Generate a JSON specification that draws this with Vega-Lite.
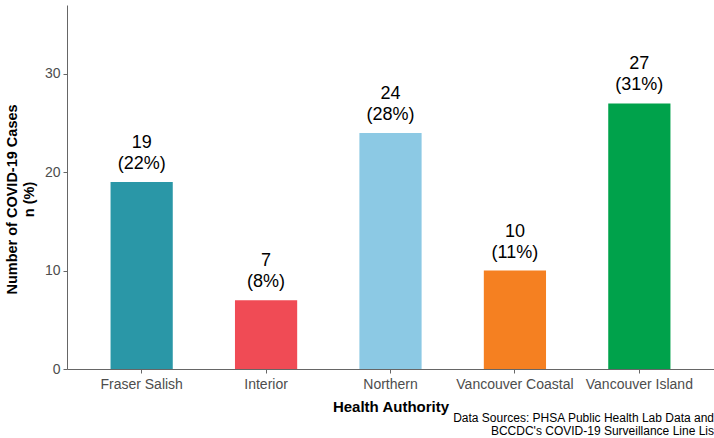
{
  "$schema": "https://vega.github.io/schema/vega-lite/v6.json",
  "width": 647,
  "height": 364,
  "autosize": {"type": "none"},
  "padding": {"left": 67, "top": 5, "right": 0, "bottom": 69},
  "background": "white",
  "config": {
    "view": {"stroke": null},
    "font": "Liberation Sans"
  },
  "title": {
    "text": ["Data Sources: PHSA Public Health Lab Data and", "BCCDC's COVID-19 Surveillance Line Lis"],
    "orient": "bottom",
    "anchor": "end",
    "align": "right",
    "fontSize": 12,
    "fontWeight": "normal",
    "color": "black",
    "offset": -1,
    "lineHeight": 13,
    "font": "Liberation Sans"
  },
  "data": {
    "values": [
      {"authority": "Fraser Salish", "n": 19, "label": "19\n(22%)"},
      {"authority": "Interior", "n": 7, "label": "7\n(8%)"},
      {"authority": "Northern", "n": 24, "label": "24\n(28%)"},
      {"authority": "Vancouver Coastal", "n": 10, "label": "10\n(11%)"},
      {"authority": "Vancouver Island", "n": 27, "label": "27\n(31%)"}
    ]
  },
  "encoding": {
    "x": {
      "field": "authority",
      "type": "nominal",
      "sort": null,
      "scale": {"paddingInner": 0.5, "paddingOuter": 0.35},
      "axis": {
        "title": "Health Authority",
        "titleFontSize": 15,
        "titleFontWeight": "bold",
        "titleColor": "black",
        "titlePadding": 8,
        "labelAngle": 0,
        "labelFontSize": 14,
        "labelColor": "#4d4d4d",
        "labelPadding": 4,
        "domainColor": "#666666",
        "tickColor": "#666666",
        "tickSize": 4
      }
    },
    "y": {
      "field": "n",
      "type": "quantitative",
      "scale": {"domain": [0, 37], "nice": false},
      "axis": {
        "title": ["Number of COVID-19 Cases", "n (%)"],
        "titleFontSize": 14.5,
        "titleFontWeight": "bold",
        "titleColor": "black",
        "titleLineHeight": 17,
        "titlePadding": 8,
        "titleY": 194,
        "values": [0, 10, 20, 30],
        "grid": false,
        "labelFontSize": 14,
        "labelColor": "#4d4d4d",
        "labelPadding": 3,
        "domainColor": "#666666",
        "tickColor": "#666666",
        "tickSize": 4
      }
    }
  },
  "layer": [
    {
      "mark": {"type": "bar"},
      "encoding": {
        "color": {
          "field": "authority",
          "type": "nominal",
          "sort": null,
          "scale": {
            "domain": ["Fraser Salish", "Interior", "Northern", "Vancouver Coastal", "Vancouver Island"],
            "range": ["#2A97A7", "#F04B55", "#8CC9E4", "#F58021", "#00A24B"]
          },
          "legend": null
        }
      }
    },
    {
      "mark": {"type": "text", "baseline": "bottom", "dy": -30, "fontSize": 18, "lineHeight": 21, "lineBreak": "\n", "color": "black"},
      "encoding": {
        "text": {"field": "label"}
      }
    }
  ]
}
